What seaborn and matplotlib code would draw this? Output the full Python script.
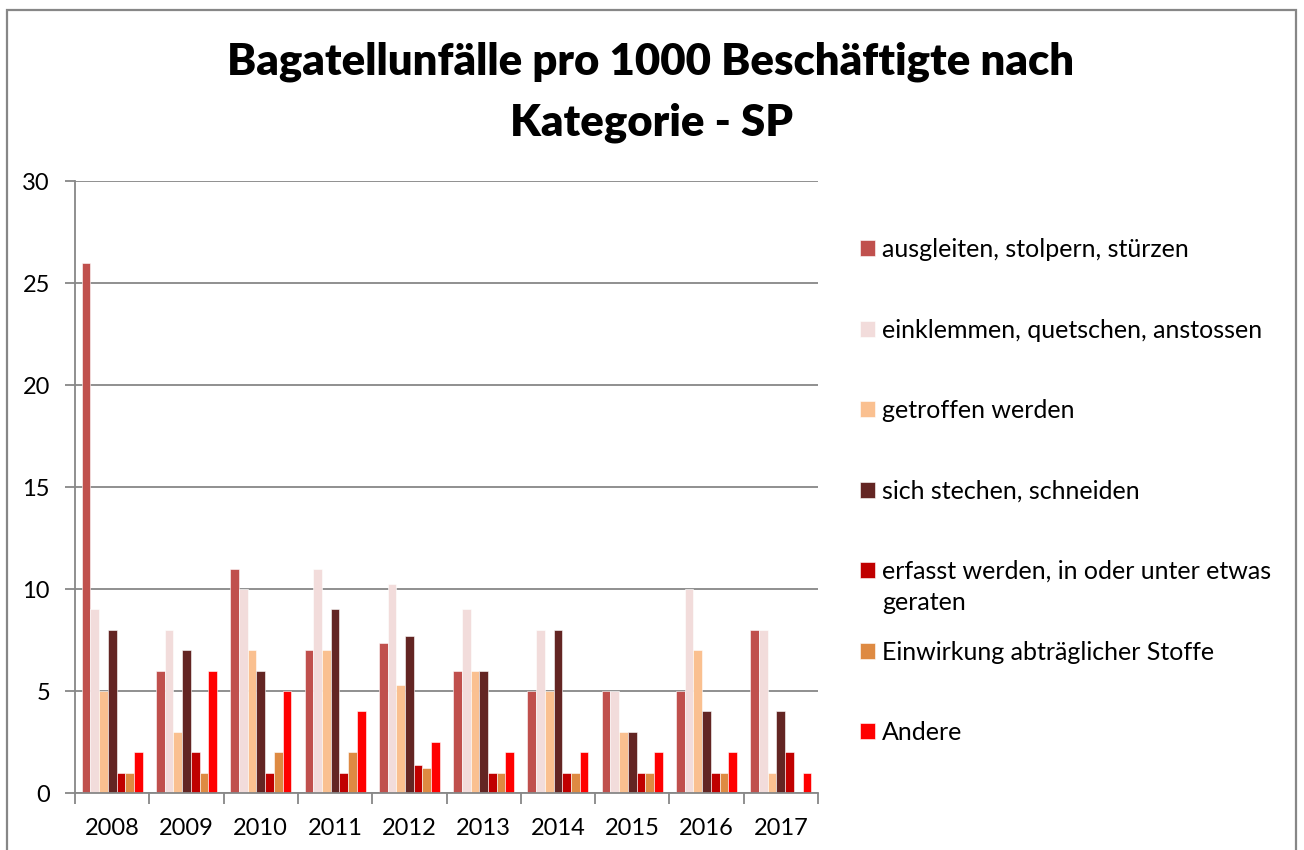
import matplotlib
matplotlib.use("Agg")
import matplotlib.pyplot as plt
import pandas as pd
import seaborn as sns
import numpy as np
from matplotlib.patches import Rectangle
from matplotlib.text import Annotation

# Data
years = ["2008", "2009", "2010", "2011", "2012", "2013", "2014", "2015", "2016", "2017"]
categories = [
    "ausgleiten, stolpern, stürzen",
    "einklemmen, quetschen, anstossen",
    "getroffen werden",
    "sich stechen, schneiden",
    "erfasst werden, in oder unter etwas\ngeraten",
    "Einwirkung abträglicher Stoffe",
    "Andere",
]
ausgleiten = [26, 6, 11, 7, 7.35, 6, 5, 5, 5, 8]
einklemmen = [9, 8, 10, 11, 10.25, 9, 8, 5, 10, 8]
getroffen = [5, 3, 7, 7, 5.3, 6, 5, 3, 7, 1]
stechen = [8, 7, 6, 9, 7.7, 6, 8, 3, 4, 4]
erfasst = [1, 2, 1, 1, 1.35, 1, 1, 1, 1, 2]
einwirkung = [1, 1, 2, 2, 1.25, 1, 1, 1, 1, 0]
andere = [2, 6, 5, 4, 2.5, 2, 2, 2, 2, 1]
colors = ["#C0504D", "#F2DCDB", "#FAC090", "#632523", "#C00000", "#DE8A42", "#FF0000"]

series = [ausgleiten, einklemmen, getroffen, stechen, erfasst, einwirkung, andere]
rows = []
for cat, vals in zip(categories, series):
    for y, v in zip(years, vals):
        rows.append({"Jahr": y, "Kategorie": cat, "Wert": v})
df = pd.DataFrame(rows)

sns.set_style("white")
plt.rcParams["font.family"] = ["Lato", "DejaVu Sans"]
plt.rcParams["text.color"] = "black"
plt.rcParams["xtick.color"] = "black"
plt.rcParams["ytick.color"] = "black"

fig = plt.figure(figsize=(13.04, 8.5), dpi=100)
ax = fig.add_axes([75 / 1304, 1 - 793 / 850, (818 - 75) / 1304, (793 - 181) / 850])

sns.barplot(data=df, x="Jahr", y="Wert", hue="Kategorie", hue_order=categories,
            order=years, palette=colors, saturation=1, width=0.82, ax=ax,
            edgecolor="white", linewidth=0.4)

ax.set_ylim(0, 30)
ax.set_xlim(-0.5, len(years) - 0.5)
ax.set_yticks(range(0, 31, 5))
ax.set_xlabel("")
ax.set_ylabel("")
gray = "#878787"
ax.yaxis.grid(True, color=gray, linewidth=1.3)
ax.set_axisbelow(True)
for s in ["top", "right"]:
    ax.spines[s].set_visible(False)
for s in ["left", "bottom"]:
    ax.spines[s].set_color(gray)
    ax.spines[s].set_linewidth(1.3)

ax.set_xticks(np.arange(-0.5, len(years), 1), minor=True)
ax.tick_params(axis="x", which="major", length=0, pad=18, labelsize=17)
ax.tick_params(axis="x", which="minor", length=8, width=1.3, color=gray, direction="out", bottom=True)
ax.tick_params(axis="y", which="major", length=7, width=1.3, color=gray, direction="out",
               left=True, pad=11, labelsize=17)

# legend to the right of the plot; the second line of the long label hangs below its entry
handles, labels = ax.get_legend_handles_labels()
ax.get_legend().remove()
first_lines = [l.split("\n")[0] for l in labels]
leg = fig.legend(handles, first_lines, loc="upper left", bbox_to_anchor=(860 / 1304, 1 - 238 / 850),
                 frameon=False, fontsize=18, handlelength=0.6, handleheight=0.6,
                 handletextpad=0.28, labelspacing=2.30, borderpad=0, borderaxespad=0)
for txt, full in zip(leg.get_texts(), labels):
    if "\n" in full:
        ann = Annotation(full.split("\n", 1)[1], xy=(0, 0.5), xycoords=txt,
                         xytext=(0, -22.3), textcoords="offset points",
                         ha="left", va="center", fontsize=18, annotation_clip=False, zorder=10)
        fig.add_artist(ann)

fig.text(651 / 1304, 1 - 92.5 / 850, "Bagatellunfälle pro 1000 Beschäftigte nach\nKategorie - SP",
         ha="center", va="center", fontsize=31.4, fontweight="heavy", linespacing=1.63)

fig.add_artist(Rectangle((7 / 1304, -0.02), (1296 - 7) / 1304, 1 - 10 / 850 + 0.02,
                         transform=fig.transFigure, fill=False, edgecolor=gray, linewidth=1.6))

fig.savefig("out.png", dpi=100, facecolor="white")
